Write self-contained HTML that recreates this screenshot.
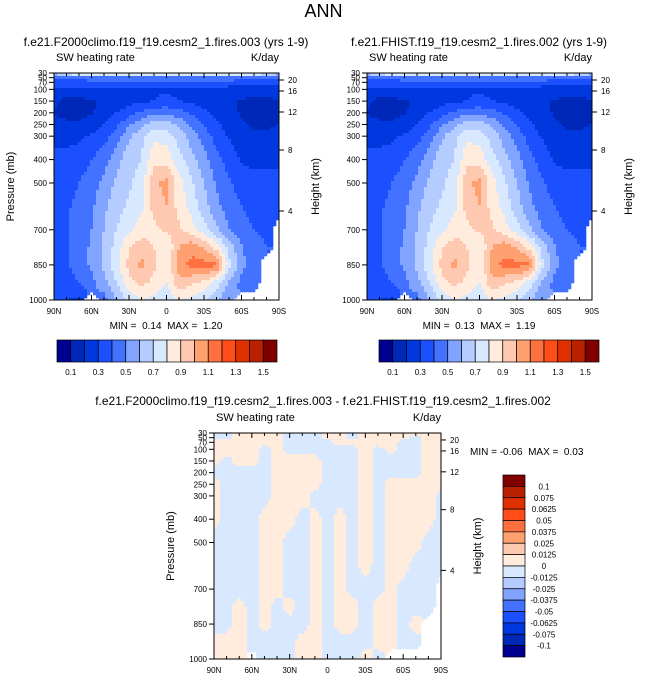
<!DOCTYPE html>
<html><head><meta charset="utf-8"><style>
body{margin:0;background:#fff;}
svg{display:block;font-family:"Liberation Sans",sans-serif;}
text{white-space:pre;}
</style></head><body>
<svg id="s" width="647" height="683" viewBox="0 0 647 683">
<text x="323.5" y="17" font-size="18" text-anchor="middle">ANN</text>
</svg>
<script>
// ---- data ----
const lats = [90,80,70,60,50,40,30,20,10,0,-10,-20,-30,-40,-50,-60,-70,-80,-90];
const plevs = [30,50,70,100,150,200,250,300,400,500,600,700,775,850,925,1000];
const fieldA = [
[0.6,0.8,0.85,0.85,0.85,0.85,0.85,0.85,0.85,0.85,0.85,0.85,0.85,0.85,0.85,0.85,0.85,0.8,0.6],
[0.45,0.45,0.45,0.45,0.45,0.45,0.45,0.45,0.45,0.45,0.45,0.45,0.45,0.45,0.45,0.45,0.45,0.45,0.45],
[0.36,0.36,0.36,0.37,0.38,0.38,0.38,0.38,0.38,0.38,0.38,0.38,0.38,0.38,0.37,0.36,0.36,0.36,0.36],
[0.27,0.27,0.27,0.27,0.26,0.26,0.27,0.28,0.29,0.29,0.28,0.27,0.26,0.25,0.25,0.25,0.25,0.25,0.25],
[0.22,0.17,0.17,0.19,0.22,0.24,0.26,0.28,0.3,0.32,0.3,0.28,0.26,0.24,0.22,0.19,0.18,0.18,0.19],
[0.2,0.17,0.17,0.19,0.24,0.3,0.36,0.42,0.47,0.47,0.44,0.38,0.32,0.27,0.23,0.19,0.18,0.18,0.19],
[0.22,0.22,0.22,0.25,0.3,0.38,0.48,0.58,0.65,0.66,0.58,0.48,0.4,0.32,0.26,0.21,0.19,0.19,0.2],
[0.27,0.27,0.28,0.31,0.36,0.45,0.58,0.68,0.78,0.76,0.66,0.55,0.45,0.36,0.29,0.23,0.21,0.21,0.22],
[0.33,0.33,0.35,0.4,0.46,0.56,0.67,0.7,0.87,0.86,0.74,0.64,0.54,0.43,0.36,0.29,0.27,0.27,0.28],
[0.36,0.37,0.4,0.45,0.53,0.62,0.68,0.75,0.97,1.04,0.84,0.72,0.6,0.49,0.41,0.36,0.34,0.34,0.34],
[0.37,0.39,0.42,0.48,0.58,0.66,0.72,0.78,0.94,1.0,0.86,0.76,0.64,0.53,0.45,0.4,0.37,0.36,0.35],
[0.38,0.39,0.43,0.5,0.6,0.7,0.78,0.84,0.87,0.92,0.92,0.85,0.74,0.62,0.5,0.43,0.4,0.38,null],
[0.39,0.39,0.44,0.52,0.62,0.74,0.9,0.96,0.9,0.8,1.0,1.07,1.0,0.86,0.66,0.51,0.44,0.4,null],
[0.39,0.39,0.44,0.52,0.62,0.76,0.93,1.03,0.92,0.8,1.06,1.13,1.14,1.13,0.74,0.53,0.44,null,null],
[0.37,0.37,0.4,0.47,0.57,0.7,0.87,0.93,0.87,0.8,0.97,0.92,0.88,0.76,0.58,0.47,0.42,null,null],
[0.3,0.3,0.28,null,0.45,0.6,0.72,0.8,0.77,0.72,0.8,0.78,0.72,0.62,0.52,null,null,null,null]];
const fieldB = [
[0.6,0.8,0.85,0.85,0.85,0.85,0.85,0.85,0.85,0.85,0.85,0.85,0.85,0.85,0.85,0.85,0.85,0.8,0.6],
[0.45,0.45,0.45,0.45,0.45,0.45,0.45,0.45,0.45,0.45,0.45,0.45,0.45,0.45,0.45,0.45,0.45,0.45,0.45],
[0.36,0.36,0.36,0.37,0.38,0.38,0.38,0.38,0.38,0.38,0.38,0.38,0.38,0.38,0.37,0.36,0.36,0.36,0.36],
[0.27,0.27,0.27,0.27,0.26,0.26,0.27,0.28,0.29,0.29,0.28,0.27,0.26,0.25,0.25,0.25,0.25,0.25,0.25],
[0.22,0.17,0.17,0.19,0.22,0.24,0.26,0.28,0.3,0.32,0.3,0.28,0.26,0.24,0.22,0.19,0.18,0.18,0.19],
[0.2,0.17,0.17,0.19,0.24,0.3,0.36,0.42,0.47,0.47,0.44,0.38,0.32,0.27,0.23,0.19,0.18,0.18,0.19],
[0.22,0.22,0.22,0.25,0.3,0.38,0.48,0.58,0.65,0.66,0.58,0.48,0.4,0.32,0.26,0.21,0.19,0.19,0.2],
[0.27,0.27,0.28,0.31,0.36,0.45,0.58,0.68,0.78,0.76,0.66,0.55,0.45,0.36,0.29,0.23,0.21,0.21,0.22],
[0.33,0.33,0.35,0.4,0.46,0.56,0.67,0.7,0.87,0.86,0.74,0.64,0.54,0.43,0.36,0.29,0.27,0.27,0.28],
[0.36,0.37,0.4,0.45,0.53,0.62,0.68,0.75,0.97,1.04,0.84,0.72,0.6,0.49,0.41,0.36,0.34,0.34,0.34],
[0.37,0.39,0.42,0.48,0.58,0.66,0.72,0.78,0.94,1.0,0.86,0.76,0.64,0.53,0.45,0.4,0.37,0.36,0.35],
[0.38,0.39,0.43,0.5,0.6,0.7,0.78,0.84,0.87,0.92,0.92,0.85,0.74,0.62,0.5,0.43,0.4,0.38,null],
[0.39,0.39,0.44,0.52,0.62,0.74,0.9,0.96,0.9,0.8,1.0,1.07,1.0,0.86,0.66,0.51,0.44,0.4,null],
[0.39,0.39,0.44,0.52,0.62,0.76,0.93,1.03,0.92,0.8,1.06,1.13,1.13,1.12,0.74,0.53,0.44,null,null],
[0.37,0.37,0.4,0.47,0.57,0.7,0.87,0.93,0.87,0.8,0.97,0.92,0.88,0.76,0.58,0.47,0.42,null,null],
[0.3,0.3,0.28,null,0.45,0.6,0.72,0.8,0.77,0.72,0.8,0.78,0.72,0.62,0.52,null,null,null,null]];
const P=0.005, N=-0.005;
const fieldD = [
[N,N,P,P,P,P,N,N,N,P,P,N,P,P,P,P,P,P,P],
[N,N,P,P,P,P,N,N,N,P,P,N,P,P,P,P,N,P,P],
[P,P,P,P,P,P,N,N,N,N,P,P,P,P,P,N,N,P,P],
[P,P,P,P,N,P,N,N,N,N,N,N,P,N,P,N,N,P,P],
[P,N,P,P,N,P,P,P,P,N,N,N,P,N,N,N,N,P,P],
[N,N,N,N,N,P,P,P,P,N,N,N,P,N,N,N,N,P,P],
[P,N,N,N,N,P,P,P,P,N,N,N,P,N,P,P,P,P,P],
[P,N,N,N,N,P,P,P,N,N,N,N,P,N,P,P,P,P,N],
[P,N,N,N,P,P,P,N,P,N,P,N,P,N,P,P,P,P,N],
[N,N,N,N,P,P,N,N,P,N,P,N,P,N,P,P,P,N,N],
[N,N,N,N,P,P,N,N,P,N,P,N,P,N,P,P,N,N,N],
[N,N,N,N,P,P,N,N,P,N,P,N,N,N,P,N,N,N,null],
[N,N,P,N,P,N,P,N,P,N,P,P,N,P,P,N,N,N,null],
[N,N,P,N,P,N,N,N,P,N,P,P,N,P,P,N,P,null,null],
[P,P,P,N,N,N,N,P,P,N,N,N,N,P,P,N,N,null,null],
[P,P,P,null,N,N,N,P,P,N,N,N,P,N,null,null,null,null,null]];
const levelsMain = [0.1,0.2,0.3,0.4,0.5,0.6,0.7,0.8,0.9,1.0,1.1,1.2,1.3,1.4,1.5];
const levelsDiff = [-0.1,-0.075,-0.0625,-0.05,-0.0375,-0.025,-0.0125,0,0.0125,0.025,0.0375,0.05,0.0625,0.075,0.1];
const cbLabelsMain = ["0.1","0.3","0.5","0.7","0.9","1.1","1.3","1.5"];
const cbLabelsDiff = ["-0.1","-0.075","-0.0625","-0.05","-0.0375","-0.025","-0.0125","0","0.0125","0.025","0.0375","0.05","0.0625","0.075","0.1"];
const xTicks = ["90N","60N","30N","0","30S","60S","90S"];
const pTicks = [30,50,70,100,150,200,250,300,400,500,700,850,1000];
const hTicks = [[20,7],[16,18],[12,39],[8,77],[4,138]];
const colors = ['#000090','#0028b8','#0038e0','#1c50ff','#4272ff','#80a4ff','#b4ccff','#d8e8ff','#ffecdc','#ffc8b0','#ffa070','#ff7040','#ff4c18','#e03000','#b82000','#800000'];

const NS='http://www.w3.org/2000/svg', S=document.getElementById('s');
function el(t,a,p){const e=document.createElementNS(NS,t);for(const k in a)e.setAttribute(k,a[k]);(p||S).appendChild(e);return e;}
function txt(x,y,s,fs,anchor,name,extra){const e=el('text',Object.assign({x:x,y:y,'font-size':fs,'text-anchor':anchor||'start'},extra||{}));e.textContent=s;


return e;}
function colorFor(v,lv){let i=0;while(i<lv.length&&v>=lv[i])i++;return colors[i];}
function sample(f,lat,p){
  let j=0;while(j<lats.length-2&&lat<lats[j+1])j++;
  let i=0;while(i<plevs.length-2&&p>plevs[i+1])i++;
  const tx=(lats[j]-lat)/(lats[j]-lats[j+1]), ty=(p-plevs[i])/(plevs[i+1]-plevs[i]);
  const a=f[i][j],b=f[i][j+1],c=f[i+1][j],d=f[i+1][j+1];
  const pts=[[a,(1-tx)*(1-ty)],[b,tx*(1-ty)],[c,(1-tx)*ty],[d,tx*ty]];
  let s=0,w=0,nw=0;for(const [v,ww] of pts){if(v===null)nw+=ww;else{s+=v*ww;w+=ww;}}
  if(nw>0.5||w===0)return null;return s/w;
}
function plot(x0,y0,w,h,f,lv,pre,showP){
  const g=el('g',{});
  
  
  const xs=x=>x0+(90-x)/180*w, ys=p=>y0+(p-30)/970*h;
  const st=3;
  for(let py=0;py<h;py+=st){for(let px=0;px<w;px+=st){
    const lat=90-(px+st/2)/w*180, p=30+(py+st/2)/h*970;
    const v=sample(f,lat,p); if(v===null)continue;
    const r=el('rect',{x:x0+px,y:y0+py,width:Math.min(st,w-px)+0.3,height:Math.min(st,h-py)+0.3,fill:colorFor(v,lv)},g);
    
    
  }}
  const fr=el('rect',{x:x0,y:y0,width:w,height:h,fill:'none',stroke:'#000','stroke-width':1});
  
  
  for(let k=0;k<xTicks.length;k++){const lat=90-30*k,x=xs(lat);
    el('line',{x1:x,y1:y0+h,x2:x,y2:y0+h-5,stroke:'#000'});el('line',{x1:x,y1:y0,x2:x,y2:y0+5,stroke:'#000'});
    txt(x,y0+h+14,xTicks[k],8,'middle',pre+'-x-tick-label');}
  for(let lat=80;lat>-90;lat-=10){if(lat%30===0)continue;const x=xs(lat);
    el('line',{x1:x,y1:y0+h,x2:x,y2:y0+h-3,stroke:'#000'});el('line',{x1:x,y1:y0,x2:x,y2:y0+3,stroke:'#000'});}
  for(const p of pTicks){const y=ys(p);el('line',{x1:x0,y1:y,x2:x0-5,y2:y,stroke:'#000'});
    txt(x0-7,y+3,String(p),8,'end',pre+'-pressure-tick-label');}
  for(const [hk,dy] of hTicks){const y=y0+dy*h/227;el('line',{x1:x0+w,y1:y,x2:x0+w+5,y2:y,stroke:'#000'});
    txt(x0+w+9,y+3,String(hk),8,'start',pre+'-height-tick-label');}
  txt(x0+2,y0-12,'SW heating rate',11,'start',pre+'-variable-label');
  txt(x0+w,y0-12,'K/day',11,'end',pre+'-units-label');
  if(showP)txt(x0-40,y0+h/2,'Pressure (mb)',11,'middle',pre+'-y-axis-title',{transform:`rotate(-90 ${x0-40} ${y0+h/2})`});
  txt(x0+w+40,y0+h/2,'Height (km)',11,'middle',pre+'-height-axis-title',{transform:`rotate(-90 ${x0+w+40} ${y0+h/2})`});
}
function hbar(x0,y0,w,h,pre){
  const bw=w/16;
  for(let k=0;k<16;k++){const r=el('rect',{x:x0+k*bw,y:y0,width:bw,height:h,fill:colors[k],stroke:'#000','stroke-width':0.7});
    
    }
  for(let k=0;k<cbLabelsMain.length;k++)txt(x0+(1+2*k)*bw,y0+h+13,cbLabelsMain[k],8,'middle',pre+'-colorbar-label');
}
plot(54,73,225,227,fieldA,levelsMain,'left',true);
txt(166,46,'f.e21.F2000climo.f19_f19.cesm2_1.fires.003 (yrs 1-9)',12,'middle','left-plot-title');
txt(166,329,'MIN =  0.14  MAX =  1.20',10,'middle','left-min-max');
hbar(57,340,220,22,'left');
plot(367,73,225,227,fieldB,levelsMain,'right',false);
txt(479,46,'f.e21.FHIST.f19_f19.cesm2_1.fires.002 (yrs 1-9)',12,'middle','right-plot-title');
txt(479,329,'MIN =  0.13  MAX =  1.19',10,'middle','right-min-max');
hbar(379,340,220,22,'right');
plot(214,433,227,226,fieldD,levelsDiff,'diff',true);
txt(323,405,'f.e21.F2000climo.f19_f19.cesm2_1.fires.003 - f.e21.FHIST.f19_f19.cesm2_1.fires.002',12,'middle','diff-plot-title');
txt(470,455,'MIN = -0.06  MAX =  0.03',10,'start','diff-min-max');
(function(){const x0=503,y0=475,w=22,h=182,bh=h/16;
  for(let k=0;k<16;k++){const r=el('rect',{x:x0,y:y0+k*bh,width:w,height:bh,fill:colors[15-k],stroke:'#000','stroke-width':0.7});
    
    }
  for(let k=0;k<cbLabelsDiff.length;k++)txt(544,y0+(k+1)*bh+3,cbLabelsDiff[cbLabelsDiff.length-1-k],8,'middle','diff-colorbar-label');
})();
</script>
</body></html>
